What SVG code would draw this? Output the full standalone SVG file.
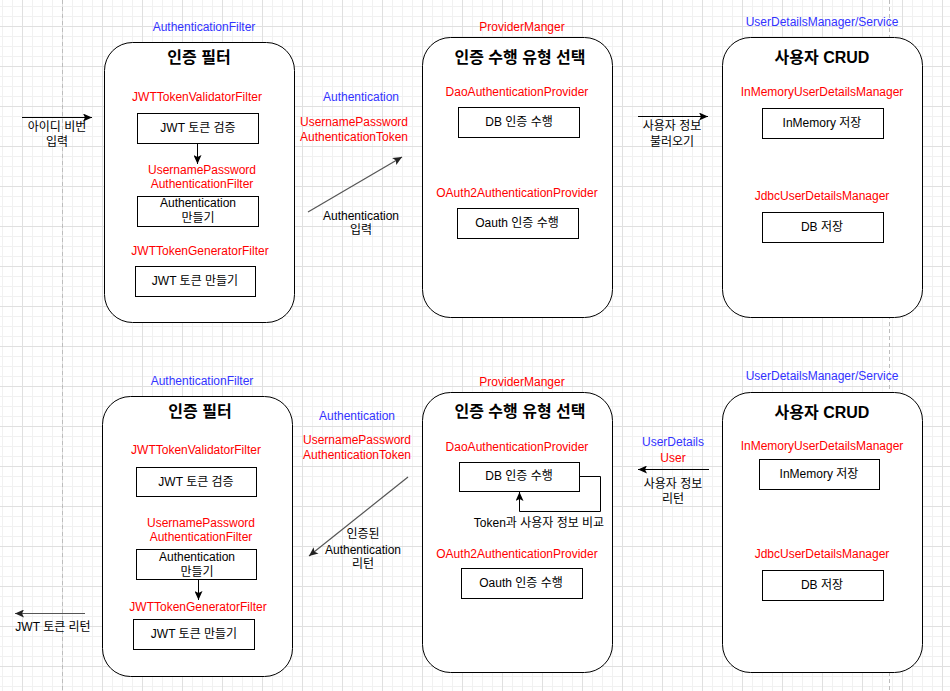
<svg xmlns="http://www.w3.org/2000/svg" width="950" height="691" viewBox="0 0 950 691">
<style>
text{font-family:"Liberation Sans","Noto Sans CJK KR",sans-serif;font-size:12px;text-anchor:middle;dominant-baseline:central;fill:#000}
.t{font-size:16px;font-weight:bold}
.r{fill:#ff0000}
.b{fill:#3333ff}
.c{fill:#fff;stroke:#000;stroke-width:1}
.bx{fill:#fff;stroke:#000;stroke-width:1}
.k{fill:none;stroke:#000;stroke-width:1}
.g{fill:none;stroke:#555;stroke-width:1.2}
</style>
<defs>
<pattern id="minor" x="2" y="6" width="10" height="10" patternUnits="userSpaceOnUse"><path d="M0.5 0V10M0 0.5H10" stroke="#f1f1f1" stroke-width="1" fill="none"/></pattern>
<pattern id="major" x="22" y="26" width="40" height="40" patternUnits="userSpaceOnUse"><path d="M0.5 0V40M0 0.5H40" stroke="#e0e0e0" stroke-width="1" fill="none"/></pattern>
<marker id="ak" markerWidth="9" markerHeight="8" refX="9" refY="4" orient="auto" markerUnits="userSpaceOnUse"><path d="M0,0 L9,4 L0,8 L2,4 Z" fill="#000"/></marker>
<marker id="ag" markerWidth="9" markerHeight="8" refX="9" refY="4" orient="auto" markerUnits="userSpaceOnUse"><path d="M0,0 L9,4 L0,8 L2,4 Z" fill="#222"/></marker>
</defs>
<rect width="950" height="691" fill="#fff"/>
<rect width="950" height="691" fill="url(#minor)"/>
<rect width="950" height="691" fill="url(#major)"/>
<path d="M62.5 0V691M889.5 0V691" stroke="#bdbdbd" stroke-dasharray="4 3" fill="none"/>

<g id="auth-filter-top">
<text class="b" x="204" y="27">AuthenticationFilter</text>
<rect class="c" x="104.5" y="42.5" width="190" height="280" rx="28"/>
<text class="t" x="199" y="57">인증 필터</text>
<text class="r" x="197" y="97">JWTTokenValidatorFilter</text>
<rect class="bx" x="137.5" y="113.5" width="121" height="30"/>
<text x="198" y="128">JWT 토큰 검증</text>
<text class="r" x="202" y="170">UsernamePassword</text>
<text class="r" x="202" y="184">AuthenticationFilter</text>
<rect class="bx" x="137.5" y="196.5" width="121" height="30"/>
<text x="198" y="203">Authentication</text>
<text x="198" y="218">만들기</text>
<text class="r" x="200" y="251">JWTTokenGeneratorFilter</text>
<rect class="bx" x="135.5" y="266.5" width="120" height="30"/>
<text x="195" y="281">JWT 토큰 만들기</text>
</g>

<g id="provider-top">
<text class="r" x="522" y="27">ProviderManger</text>
<rect class="c" x="422.5" y="37.5" width="190" height="280" rx="28"/>
<text class="t" x="520" y="57">인증 수행 유형 선택</text>
<text class="r" x="517" y="92">DaoAuthenticationProvider</text>
<rect class="bx" x="458.5" y="107.5" width="121" height="30"/>
<text x="519" y="122">DB 인증 수행</text>
<text class="r" x="517" y="193">OAuth2AuthenticationProvider</text>
<rect class="bx" x="457.5" y="208.5" width="121" height="30"/>
<text x="517" y="223">Oauth 인증 수행</text>
</g>

<g id="user-crud-top">
<text class="b" x="822" y="22">UserDetailsManager/Service</text>
<rect class="c" x="722.5" y="37.5" width="200" height="280" rx="28"/>
<text class="t" x="822" y="57">사용자 CRUD</text>
<text class="r" x="822" y="92">InMemoryUserDetailsManager</text>
<rect class="bx" x="762.5" y="108.5" width="121" height="30"/>
<text x="822" y="123">InMemory 저장</text>
<text class="r" x="822" y="196">JdbcUserDetailsManager</text>
<rect class="bx" x="762.5" y="212.5" width="121" height="30"/>
<text x="822" y="227">DB 저장</text>
</g>

<g id="auth-filter-bottom">
<text class="b" x="202" y="381">AuthenticationFilter</text>
<rect class="c" x="102.5" y="396.5" width="190" height="280" rx="28"/>
<text class="t" x="200" y="411">인증 필터</text>
<text class="r" x="196" y="450">JWTTokenValidatorFilter</text>
<rect class="bx" x="136.5" y="467.5" width="120" height="29"/>
<text x="196" y="482">JWT 토큰 검증</text>
<text class="r" x="201" y="523">UsernamePassword</text>
<text class="r" x="201" y="537">AuthenticationFilter</text>
<rect class="bx" x="136.5" y="549.5" width="120" height="30"/>
<text x="197" y="557">Authentication</text>
<text x="197" y="572">만들기</text>
<text class="r" x="198" y="607">JWTTokenGeneratorFilter</text>
<rect class="bx" x="133.5" y="619.5" width="121" height="30"/>
<text x="194" y="634">JWT 토큰 만들기</text>
</g>

<g id="provider-bottom">
<text class="r" x="522" y="382">ProviderManger</text>
<rect class="c" x="422.5" y="392.5" width="190" height="280" rx="28"/>
<text class="t" x="520" y="411">인증 수행 유형 선택</text>
<text class="r" x="517" y="447">DaoAuthenticationProvider</text>
<rect class="bx" x="459.5" y="462.5" width="120" height="29"/>
<text x="519" y="476">DB 인증 수행</text>
<text class="r" x="517" y="554">OAuth2AuthenticationProvider</text>
<rect class="bx" x="461.5" y="568.5" width="121" height="30"/>
<text x="521" y="583">Oauth 인증 수행</text>
</g>

<g id="user-crud-bottom">
<text class="b" x="822" y="376">UserDetailsManager/Service</text>
<rect class="c" x="722.5" y="392.5" width="200" height="280" rx="28"/>
<text class="t" x="822" y="412">사용자 CRUD</text>
<text class="r" x="822" y="446">InMemoryUserDetailsManager</text>
<rect class="bx" x="759.5" y="459.5" width="120" height="30"/>
<text x="819" y="474">InMemory 저장</text>
<text class="r" x="822" y="554">JdbcUserDetailsManager</text>
<rect class="bx" x="762.5" y="570.5" width="121" height="30"/>
<text x="822" y="585">DB 저장</text>
</g>

<g id="connectors">
<line class="k" x1="22" y1="117.5" x2="92" y2="117.5" marker-end="url(#ak)"/>
<text x="57" y="127">아이디 비번</text>
<text x="57" y="142">입력</text>
<line class="k" x1="197.5" y1="143" x2="197.5" y2="164" marker-end="url(#ak)"/>
<text class="b" x="361" y="97">Authentication</text>
<text class="r" x="354" y="122">UsernamePassword</text>
<text class="r" x="354" y="137">AuthenticationToken</text>
<line class="g" x1="308" y1="212" x2="402" y2="157" marker-end="url(#ag)"/>
<text x="361" y="216">Authentication</text>
<text x="361" y="230">입력</text>
<line class="k" x1="638" y1="116.5" x2="708" y2="116.5" marker-end="url(#ak)"/>
<text x="672" y="126">사용자 정보</text>
<text x="672" y="142">불러오기</text>

<line class="k" x1="198.5" y1="579" x2="198.5" y2="600" marker-end="url(#ak)"/>
<line class="g" x1="85" y1="613.5" x2="15" y2="613.5" marker-end="url(#ag)"/>
<text x="53" y="627">JWT 토큰 리턴</text>
<text class="b" x="357" y="416">Authentication</text>
<text class="r" x="357" y="440">UsernamePassword</text>
<text class="r" x="357" y="455">AuthenticationToken</text>
<line class="g" x1="408" y1="477" x2="309" y2="556" marker-end="url(#ag)"/>
<text x="363" y="534">인증된</text>
<text x="363" y="550">Authentication</text>
<text x="363" y="564">리턴</text>
<path class="k" d="M579.5 476.5H600.5V511.5H519.5V492" marker-end="url(#ak)"/>
<text x="539" y="523">Token과 사용자 정보 비교</text>
<line class="k" x1="709" y1="469.5" x2="638" y2="469.5" marker-end="url(#ak)"/>
<text class="b" x="673" y="442">UserDetails</text>
<text class="r" x="673" y="458">User</text>
<text x="673" y="484">사용자 정보</text>
<text x="673" y="499">리턴</text>
</g>
</svg>
